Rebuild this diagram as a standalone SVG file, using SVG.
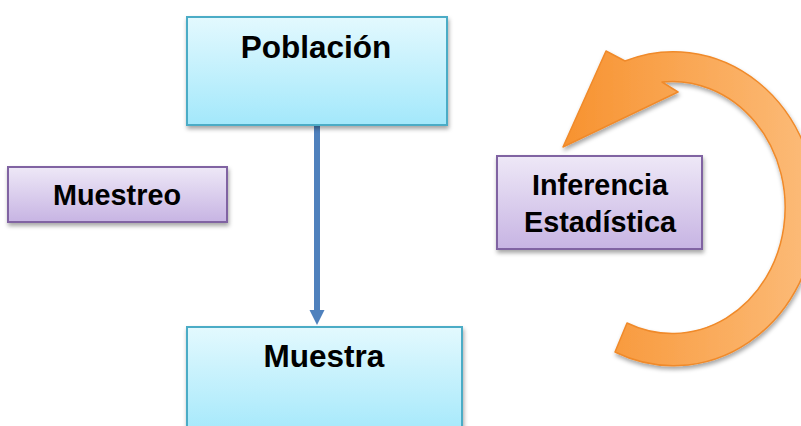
<svg xmlns="http://www.w3.org/2000/svg" width="801" height="426" viewBox="0 0 801 426">
<defs>
<linearGradient id="gBlue" x1="0" y1="0" x2="0" y2="1">
<stop offset="0" stop-color="#E3F9FE"/>
<stop offset="1" stop-color="#A3E8FB"/>
</linearGradient>
<linearGradient id="gPurple" x1="0" y1="0" x2="0" y2="1">
<stop offset="0" stop-color="#EEE8F7"/>
<stop offset="1" stop-color="#C7B4E3"/>
</linearGradient>
<linearGradient id="gOrange" gradientUnits="userSpaceOnUse" x1="560" y1="0" x2="810" y2="0">
<stop offset="0" stop-color="#F7922F"/>
<stop offset="1" stop-color="#FCBB78"/>
</linearGradient>
<filter id="sh" x="-10%" y="-10%" width="125%" height="130%">
<feDropShadow dx="1" dy="3" stdDeviation="2" flood-color="#000" flood-opacity="0.35"/>
</filter>
</defs>
<style>
.blue{fill:url(#gBlue);stroke:#4BACC6;stroke-width:2}
.purple{fill:url(#gPurple);stroke:#8064A2;stroke-width:2}
.big{font-family:"Liberation Sans",Arial,sans-serif;font-weight:bold;font-size:31.5px;fill:#000;text-anchor:middle}
.mid{font-family:"Liberation Sans",Arial,sans-serif;font-weight:bold;font-size:28.8px;fill:#000;text-anchor:middle}
</style>
<g id="connectors">
<line x1="317" y1="126" x2="317" y2="310" stroke="#4F81BD" stroke-width="6"/>
<path d="M309.5,310 L324.5,310 L317,325 Z" fill="#4F81BD"/>
</g>
<g id="cycle-arrow">
<path filter="url(#sh)" d="M625,61 A143,157 0 1 1 615,352 L627,323 A113,126 0 1 0 662,82 L678,92 L563,147 L606,51 Z" fill="url(#gOrange)" stroke="#F08A2A" stroke-width="1.5" stroke-linejoin="round"/>
</g>
<g id="poblacion">
<rect x="187" y="17" width="260" height="108" class="blue" filter="url(#sh)"/>
<text x="316" y="58" class="big">Población</text>
</g>
<g id="muestra">
<rect x="187" y="327" width="275" height="110" class="blue" filter="url(#sh)"/>
<text x="324" y="367" class="big">Muestra</text>
</g>
<g id="muestreo">
<rect x="8" y="167" width="219" height="55" class="purple" filter="url(#sh)"/>
<text x="117" y="205" class="mid">Muestreo</text>
</g>
<g id="inferencia">
<rect x="497" y="156" width="205" height="93" class="purple" filter="url(#sh)"/>
<text x="600" y="195" class="mid">Inferencia</text>
<text x="600" y="232" class="mid">Estadística</text>
</g>
</svg>
